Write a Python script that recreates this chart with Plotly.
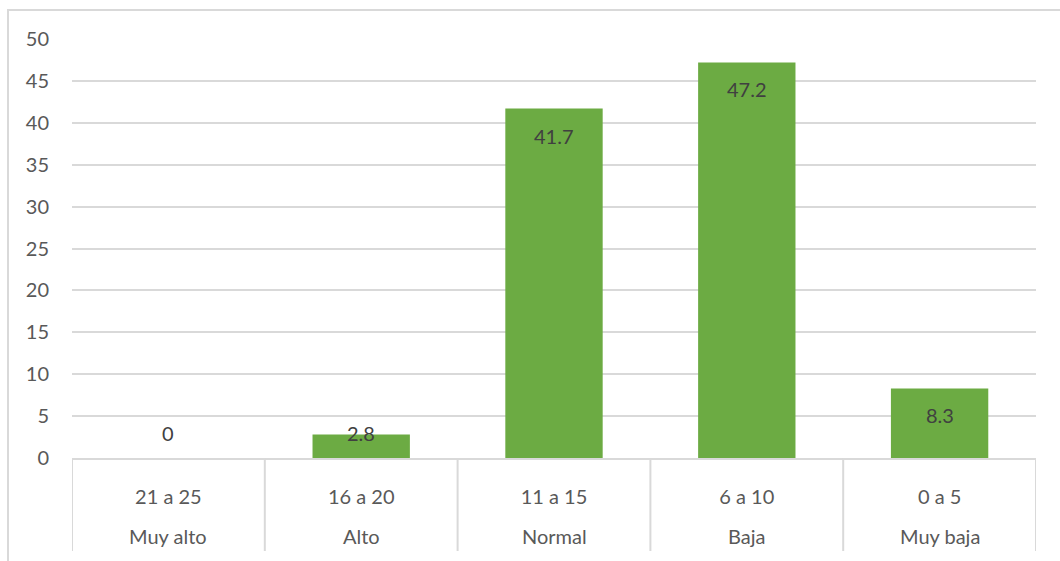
import plotly.graph_objects as go

levels = ["Muy alto", "Alto", "Normal", "Baja", "Muy baja"]
ranges = ["21 a 25", "16 a 20", "11 a 15", "6 a 10", "0 a 5"]
values = [0, 2.8, 41.7, 47.2, 8.3]
y_ticks = [0, 5, 10, 15, 20, 25, 30, 35, 40, 45, 50]

W, H = 1060, 561
ML, MR, MT, MB = 72, 24, 39, 103
plot_h = H - MT - MB
px_per_unit = plot_h / 50.0

FONT = "Lato"
TXT = "#595959"
GRID = "#d9d9d9"

fig = go.Figure()
fig.add_trace(go.Bar(
    x=ranges,
    y=values,
    marker=dict(color="#6cab43", line=dict(width=0)),
    width=0.505,
    hoverinfo="skip",
))

for rg, lv, v in zip(ranges, levels, values):
    if v * px_per_unit > 52:
        yv, ys = v, -27
    else:
        yv, ys = 0, 25
    fig.add_annotation(x=rg, xref="x", y=yv, yref="y", yshift=ys,
                       text=f"{v:g}", showarrow=False,
                       font=dict(family=FONT, size=20, color="#404040"))
    # second row of category labels
    fig.add_annotation(x=rg, xref="x", y=-(536 - (H - MB)) / plot_h, yref="paper",
                       yanchor="middle", text=lv, showarrow=False,
                       font=dict(family=FONT, size=20, color=TXT))

shapes = [dict(type="rect", xref="paper", yref="paper",
               x0=(8 - ML) / (W - ML - MR), x1=1.2,
               y0=-0.4, y1=1 + (MT - 10) / plot_h,
               line=dict(color=GRID, width=2), layer="below")]
for i in range(len(ranges) + 1):
    shapes.append(dict(type="line", xref="x", yref="paper",
                       x0=i - 0.5, x1=i - 0.5, y0=0,
                       y1=-(551 - (H - MB)) / plot_h,
                       line=dict(color=GRID, width=2)))

fig.update_layout(
    width=W, height=H,
    margin=dict(l=ML, r=MR, t=MT, b=MB, pad=0),
    paper_bgcolor="white", plot_bgcolor="white",
    showlegend=False,
    font=dict(family=FONT, size=20, color=TXT),
    xaxis=dict(
        type="category",
        range=[-0.5, len(ranges) - 0.5],
        showgrid=False, zeroline=False,
        showline=True, linecolor=GRID, linewidth=2,
        ticks="", ticklabelstandoff=20,
        tickfont=dict(family=FONT, size=20, color=TXT),
    ),
    yaxis=dict(
        range=[0, 50], tickvals=y_ticks,
        showgrid=True, gridcolor=GRID, gridwidth=2,
        zeroline=False, showline=False, ticks="",
        ticklabelstandoff=22,
        tickfont=dict(family=FONT, size=20, color=TXT),
    ),
    shapes=shapes,
)

fig.write_html("out.html")
